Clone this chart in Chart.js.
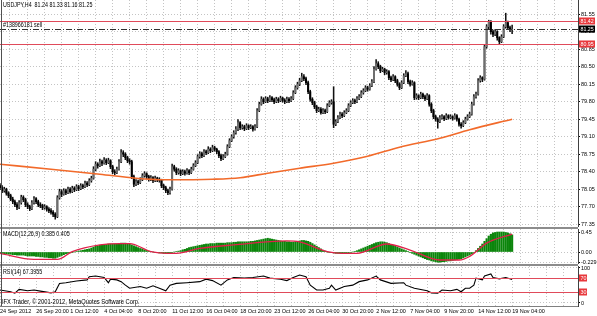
<!DOCTYPE html>
<html>
<head>
<meta charset="utf-8">
<script src="https://cdn.jsdelivr.net/npm/chart.js@4.4.1/dist/chart.umd.min.js"></script>
<style>
  body { margin: 0; background: #fff; width: 597px; height: 316px; overflow: hidden; position: relative;
         font-family: 'Liberation Sans', Arial, sans-serif; }
  canvas { position: absolute; left: 0; }
  .t { position: absolute; font-size: 6.5px; color: #000; white-space: nowrap; line-height: 1;
       transform: scaleX(0.82); transform-origin: left top; }
  .sep { position: absolute; left: 0; width: 578px; height: 2px; background: #8c8c8c; }
  .vl { position: absolute; left: 1px; top: 0; width: 1px; height: 306px; background: #505050; }
  .hl { position: absolute; left: 0; top: 306px; width: 578px; height: 1px; background: #808080; }
</style>
</head>
<body>
<canvas id="mainChart" width="597" height="227" style="top:0"></canvas>
<canvas id="macdChart" width="597" height="35" style="top:229px"></canvas>
<canvas id="rsiChart" width="597" height="50" style="top:266px"></canvas>
<div class="sep" style="top:227px"></div>
<div class="sep" style="top:264px"></div>
<div class="vl"></div>
<div class="hl"></div>
<div class="t" style="left:3px;top:2px">USDJPY,H4&nbsp; 81.24 81.33 81.16 81.25</div>
<div class="t" style="left:3px;top:22px">#138966181 sell</div>
<div class="t" style="left:3px;top:231px">MACD(12,26,9) 0.385 0.405</div>
<div class="t" style="left:3px;top:269px">RSI(14) 67.3955</div>
<div class="t" style="left:2px;top:298px;font-size:7px">IFX Trader, © 2001-2012, MetaQuotes Software Corp.</div>
<script>
// H4 bars, [open, high, low, close]
const ohlc = [
  [78.12,78.16,78.04,78.08],[78.08,78.12,77.98,78.02],[78.02,78.09,77.99,78.05],[78.05,78.07,77.93,77.97],
  [77.97,78.00,77.88,77.92],[77.92,77.95,77.82,77.85],[77.85,77.89,77.76,77.80],[77.80,77.83,77.70,77.74],
  [77.74,77.78,77.64,77.69],[77.69,77.82,77.66,77.78],[77.78,77.93,77.75,77.89],[77.89,77.92,77.80,77.84],
  [77.84,77.87,77.70,77.74],[77.74,77.78,77.66,77.70],[77.70,77.73,77.62,77.66],[77.66,77.82,77.64,77.78],
  [77.78,77.90,77.75,77.86],[77.86,77.88,77.76,77.80],[77.80,77.83,77.70,77.74],[77.74,77.78,77.68,77.72],
  [77.72,77.75,77.64,77.68],[77.68,77.74,77.65,77.70],[77.70,77.72,77.61,77.65],[77.65,77.68,77.58,77.62],
  [77.62,77.66,77.55,77.59],[77.59,77.62,77.50,77.55],[77.55,77.58,77.45,77.50],[77.50,77.92,77.48,77.88],
  [77.88,78.05,77.85,78.00],[78.00,78.04,77.90,77.95],[77.95,78.06,77.93,78.02],[78.02,78.05,77.94,77.98],
  [77.98,78.09,77.96,78.05],[78.05,78.08,77.97,78.00],[78.00,78.11,77.98,78.07],[78.07,78.10,78.00,78.04],
  [78.04,78.14,78.02,78.10],[78.10,78.13,78.02,78.06],[78.06,78.16,78.04,78.12],[78.12,78.15,78.06,78.10],
  [78.10,78.21,78.08,78.17],[78.17,78.20,78.10,78.14],[78.14,78.26,78.12,78.22],[78.22,78.31,78.19,78.27],
  [78.27,78.50,78.25,78.45],[78.45,78.60,78.42,78.55],[78.55,78.58,78.47,78.52],[78.52,78.65,78.50,78.60],
  [78.60,78.63,78.52,78.57],[78.57,78.68,78.55,78.63],[78.63,78.66,78.54,78.58],[78.58,78.67,78.56,78.62],
  [78.62,78.64,78.46,78.50],[78.50,78.53,78.36,78.40],[78.40,78.44,78.34,78.38],[78.38,78.49,78.36,78.45],
  [78.45,78.64,78.43,78.60],[78.60,78.84,78.58,78.78],[78.78,78.82,78.70,78.75],[78.75,78.78,78.64,78.68],
  [78.68,78.71,78.58,78.62],[78.62,78.66,78.55,78.60],[78.60,78.63,78.26,78.30],[78.30,78.33,78.10,78.15],
  [78.15,78.24,78.12,78.20],[78.20,78.23,78.14,78.18],[78.18,78.28,78.16,78.24],[78.24,78.36,78.22,78.32],
  [78.32,78.40,78.29,78.36],[78.36,78.38,78.26,78.30],[78.30,78.33,78.21,78.25],[78.25,78.32,78.22,78.28],
  [78.28,78.30,78.18,78.22],[78.22,78.31,78.20,78.27],[78.27,78.29,78.20,78.24],[78.24,78.28,78.19,78.23],
  [78.23,78.25,78.08,78.12],[78.12,78.15,78.04,78.08],[78.08,78.11,77.98,78.02],[78.02,78.05,77.94,77.98],
  [77.98,78.09,77.95,78.05],[78.05,78.55,78.03,78.50],[78.50,78.53,78.41,78.45],[78.45,78.48,78.34,78.38],
  [78.38,78.46,78.35,78.42],[78.42,78.44,78.32,78.36],[78.36,78.44,78.34,78.40],[78.40,78.43,78.33,78.37],
  [78.37,78.46,78.35,78.42],[78.42,78.44,78.34,78.38],[78.38,78.49,78.36,78.45],[78.45,78.56,78.43,78.52],
  [78.52,78.62,78.50,78.58],[78.58,78.74,78.56,78.70],[78.70,78.80,78.67,78.76],[78.76,78.79,78.68,78.72],
  [78.72,78.84,78.70,78.80],[78.80,78.83,78.74,78.78],[78.78,78.90,78.76,78.85],[78.85,78.88,78.78,78.82],
  [78.82,78.93,78.80,78.88],[78.88,78.91,78.81,78.85],[78.85,78.87,78.76,78.80],[78.80,78.82,78.68,78.72],
  [78.72,78.75,78.62,78.66],[78.66,78.74,78.64,78.70],[78.70,78.79,78.68,78.75],[78.75,78.94,78.73,78.90],
  [78.90,79.06,78.88,79.02],[79.02,79.14,79.00,79.10],[79.10,79.22,79.07,79.18],[79.18,79.30,79.15,79.25],
  [79.25,79.44,79.22,79.38],[79.38,79.40,79.24,79.28],[79.28,79.34,79.25,79.30],[79.30,79.33,79.22,79.26],
  [79.26,79.36,79.24,79.32],[79.32,79.34,79.24,79.28],[79.28,79.34,79.26,79.30],[79.30,79.32,79.21,79.25],
  [79.25,79.34,79.23,79.30],[79.30,79.66,79.28,79.62],[79.62,79.79,79.60,79.75],[79.75,79.90,79.73,79.85],
  [79.85,79.88,79.76,79.80],[79.80,79.90,79.78,79.86],[79.86,79.89,79.78,79.82],[79.82,79.92,79.80,79.88],
  [79.88,79.90,79.80,79.84],[79.84,79.87,79.76,79.80],[79.80,79.89,79.78,79.85],[79.85,79.88,79.78,79.82],
  [79.82,79.91,79.80,79.87],[79.87,79.89,79.79,79.83],[79.83,79.86,79.76,79.80],[79.80,79.89,79.78,79.85],
  [79.85,79.88,79.78,79.82],[79.82,79.90,79.80,79.86],[79.86,80.02,79.84,79.98],[79.98,80.12,79.96,80.08],
  [80.08,80.19,80.05,80.15],[80.15,80.27,80.12,80.22],[80.22,80.37,80.20,80.30],[80.30,80.34,80.22,80.26],
  [80.26,80.29,80.14,80.18],[80.18,80.21,79.96,80.00],[80.00,80.03,79.81,79.85],[79.85,79.88,79.74,79.78],
  [79.78,79.81,79.66,79.70],[79.70,79.73,79.58,79.62],[79.62,79.69,79.60,79.65],[79.65,79.68,79.55,79.58],
  [79.58,79.66,79.56,79.62],[79.62,79.65,79.56,79.60],[79.60,79.76,79.58,79.72],[79.72,79.82,79.70,79.78],
  [79.78,79.84,79.75,79.80],[79.80,80.10,79.28,79.35],[79.35,79.44,79.32,79.40],[79.40,79.52,79.38,79.48],
  [79.48,79.59,79.46,79.55],[79.55,79.58,79.48,79.52],[79.52,79.62,79.50,79.58],[79.58,79.66,79.56,79.62],
  [79.62,79.76,79.60,79.72],[79.72,79.82,79.70,79.78],[79.78,79.86,79.76,79.82],[79.82,79.85,79.76,79.80],
  [79.80,79.90,79.78,79.86],[79.86,79.94,79.84,79.90],[79.90,80.02,79.88,79.98],[79.98,80.06,79.95,80.02],
  [80.02,80.12,80.00,80.08],[80.08,80.11,80.01,80.05],[80.05,80.16,80.03,80.12],[80.12,80.24,80.10,80.20],
  [80.20,80.50,80.18,80.45],[80.45,80.64,80.43,80.56],[80.56,80.60,80.46,80.50],[80.50,80.53,80.38,80.42],
  [80.42,80.49,80.40,80.45],[80.45,80.47,80.34,80.38],[80.38,80.44,80.35,80.40],[80.40,80.42,80.24,80.28],
  [80.28,80.31,80.20,80.24],[80.24,80.34,80.22,80.30],[80.30,80.32,80.18,80.22],[80.22,80.25,80.11,80.15],
  [80.15,80.18,80.04,80.08],[80.08,80.22,80.06,80.18],[80.18,80.36,80.16,80.32],[80.32,80.42,80.30,80.36],
  [80.36,80.39,80.16,80.20],[80.20,80.23,80.11,80.15],[80.15,80.22,80.13,80.18],[80.18,80.20,79.84,79.88],
  [79.88,79.96,79.85,79.92],[79.92,79.94,79.84,79.88],[79.88,79.99,79.86,79.95],[79.95,79.97,79.86,79.90],
  [79.90,79.93,79.82,79.86],[79.86,79.96,79.84,79.92],[79.92,79.94,79.71,79.75],[79.75,79.78,79.58,79.62],
  [79.62,79.65,79.46,79.50],[79.50,79.53,79.41,79.45],[79.45,79.48,79.27,79.40],[79.40,79.52,79.38,79.48],
  [79.48,79.54,79.45,79.50],[79.50,79.52,79.42,79.46],[79.46,79.56,79.44,79.52],[79.52,79.54,79.45,79.48],
  [79.48,79.54,79.46,79.50],[79.50,79.52,79.43,79.47],[79.47,79.56,79.45,79.52],[79.52,79.54,79.41,79.45],
  [79.45,79.47,79.31,79.35],[79.35,79.38,79.27,79.32],[79.32,79.42,79.30,79.38],[79.38,79.49,79.36,79.45],
  [79.45,79.54,79.43,79.50],[79.50,79.59,79.48,79.55],[79.55,79.79,79.53,79.75],[79.75,79.94,79.73,79.90],
  [79.90,79.99,79.87,79.95],[79.95,80.26,79.93,80.22],[80.22,80.32,80.19,80.28],[80.28,80.30,80.20,80.25],
  [80.25,80.94,80.23,80.90],[80.90,81.34,80.87,81.30],[81.30,81.43,81.26,81.40],[81.40,81.42,81.15,81.20],
  [81.20,81.23,81.10,81.15],[81.15,81.24,81.12,81.20],[81.20,81.22,81.03,81.08],[81.08,81.10,80.95,81.00],
  [81.00,81.14,80.98,81.10],[81.10,81.34,81.08,81.30],[81.30,81.57,81.27,81.38],[81.38,81.41,81.24,81.28],
  [81.28,81.31,81.20,81.24],[81.24,81.33,81.16,81.25]
];

// moving average (orange line), read at a few bars
const maBars   = [0, 24, 47, 64, 78, 100, 113, 126, 141, 157, 173, 188, 207, 221, 241];
const maValues = [78.55, 78.45, 78.35, 78.27, 78.24, 78.25, 78.28, 78.37, 78.47, 78.57, 78.71, 78.89, 79.07, 79.24, 79.45];

// MACD histogram, one value per bar
const macdHist = [
  -0.03,-0.03,-0.04,-0.04,-0.05,-0.05,-0.06,-0.06,-0.07,-0.07,
  -0.07,-0.07,-0.08,-0.09,-0.09,-0.09,-0.09,-0.10,-0.10,-0.11,-0.11,-0.12,-0.12,-0.13,-0.13,-0.14,-0.14,
  -0.12,-0.10,-0.08,-0.06,-0.04,
  -0.03,-0.02,-0.01,0.00,0.01,0.02,0.03,0.04,0.05,0.06,0.07,0.09,0.11,0.13,0.14,0.15,0.16,0.17,0.17,0.18,
  0.18,0.18,0.18,0.18,0.19,0.20,0.20,0.20,0.19,
  0.18,0.16,0.14,0.12,0.10,0.08,0.07,0.05,0.04,0.02,
  0.01,0.00,-0.01,-0.01,-0.02,-0.02,-0.03,-0.03,-0.03,-0.02,-0.01,0.00,
  0.01,0.02,0.03,0.05,0.06,0.08,0.10,
  0.11,0.12,0.13,0.14,0.15,0.16,0.17,0.18,0.18,0.19,0.19,
  0.19,0.20,0.20,0.20,0.20,0.20,0.21,0.21,0.21,0.22,0.22,0.23,0.23,0.23,0.23,0.23,0.23,0.24,0.24,0.25,0.26,
  0.27,0.28,0.29,0.30,0.31,0.30,0.29,
  0.28,0.27,0.26,0.25,0.24,0.24,0.23,0.23,0.22,0.22,0.23,0.24,0.25,
  0.26,0.26,0.25,0.24,0.22,
  0.19,0.16,0.13,0.10,0.07,0.04,0.02,
  0.00,-0.01,-0.01,-0.02,-0.03,-0.03,-0.03,-0.03,-0.02,-0.02,-0.02,-0.01,0.00,0.01,
  0.03,0.05,0.07,0.09,0.11,0.13,0.15,0.17,
  0.19,0.21,0.22,0.23,0.23,0.22,0.21,
  0.19,0.17,0.15,0.13,0.11,0.09,0.07,0.05,0.03,0.01,
  -0.01,-0.03,-0.05,-0.07,-0.09,-0.11,-0.13,-0.15,-0.17,-0.18,-0.20,-0.21,-0.22,-0.23,
  -0.23,-0.22,-0.22,-0.21,-0.20,-0.20,-0.19,-0.18,-0.17,-0.16,-0.15,-0.13,-0.11,-0.09,-0.07,-0.04,
  -0.01,0.03,0.08,0.13,0.18,0.24,0.30,
  0.36,0.40,0.43,0.44,0.45,0.45,0.45,0.45,0.44,0.43,0.41,0.385
];
// MACD signal line
const sigBars   = [0, 16, 27, 34, 47, 57, 61, 71, 79, 83, 94, 110, 135, 141, 154, 161, 168, 182, 193, 207, 216, 221, 229, 241];
const sigValues = [-0.03, -0.165, -0.165, 0.01, 0.16, 0.19, 0.19, 0.01, -0.03, -0.03, 0.08, 0.16, 0.25, 0.23, 0.01, -0.03, -0.03, 0.18, 0.045, -0.18, -0.18, -0.10, 0.20, 0.405];

// RSI(14)
const rsiBars   = [0,5,7,9,13,16,19,24,26,28,31,36,41,42,45,49,51,52,55,57,59,61,66,69,72,75,78,80,83,88,
                   94,97,100,104,107,110,115,119,124,127,132,135,138,141,144,146,149,152,155,156,158,162,166,169,173,
                   177,179,184,190,191,195,201,203,206,208,212,215,217,219,221,223,224,227,228,231,232,235,238,241];
const rsiValues = [37,32,28,39,35,37,34,29,32,56,58,63,66,75,77,73,58,68,66,61,51,42,47,42,49,42,35,51,56,58,
                   61,68,64,51,66,73,71,73,77,71,68,64,73,80,75,51,37,37,42,51,37,47,51,61,66,
                   77,66,56,58,51,42,35,29,28,37,35,39,32,42,42,51,71,66,77,83,73,69,73,67.4];

// axes
const priceTicks = [77.35, 77.70, 78.05, 78.40, 78.75, 79.10, 79.45, 79.80, 80.15, 80.50, 80.85, 81.20, 81.55];
const macdTicks = [0.45, 0.00, -0.229];
const macdTickText = ['0.45', '0.00', '-0.229'];
const rsiTicks = [100, 70, 30, 0];
const labelBars = [0, 17, 33, 49, 65, 81, 97, 113, 129, 145, 161, 177, 193, 209, 225, 241];
const labelTexts = ['24 Sep 2012', '26 Sep 20:00', '1 Oct 12:00', '4 Oct 04:00', '8 Oct 20:00', '11 Oct 12:00',
                    '16 Oct 04:00', '18 Oct 20:00', '23 Oct 12:00', '26 Oct 04:00', '30 Oct 20:00', '2 Nov 12:00',
                    '7 Nov 04:00', '9 Nov 20:00', '14 Nov 12:00', '19 Nov 04:00'];
const gridBars = [0, 9, 17, 25, 33, 41, 49, 57, 65, 73, 81, 89, 97, 105, 113, 121, 129, 137, 145, 153, 161, 169,
                  177, 185, 193, 201, 209, 217, 225, 233, 241, 249, 257, 265];

// order lines and level lines
const orderLevels = [81.42, 80.95];
const orderTexts = ['81.42', '80.95'];
const lastPrice = 81.25;
const rsiLevels = [70, 30];

const X_MIN = 0, X_MAX = 272;
const GRID = '#c4c4c4';
const RED = '#e04a5a';
const RED_BOX = '#e8383c';
const FONT = "'Liberation Sans', Arial, sans-serif";

Chart.defaults.font.family = FONT;
Chart.defaults.font.size = 5.5;
Chart.defaults.color = '#000';
Chart.defaults.animation = false;
Chart.defaults.plugins.legend.display = false;
Chart.defaults.plugins.tooltip.enabled = false;

const overlay = {
    id: 'overlay',
    afterDatasetsDraw(chart, args, opts) {
        const ctx = chart.ctx, ys = chart.scales.y, a = chart.chartArea;
        (opts.lines || []).forEach(l => {
            const y = Math.round(ys.getPixelForValue(l.value)) + 0.5;
            ctx.save();
            ctx.strokeStyle = l.color;
            ctx.lineWidth = 1;
            ctx.setLineDash(l.dash || []);
            ctx.beginPath();
            ctx.moveTo(a.left, y);
            ctx.lineTo(a.right, y);
            ctx.stroke();
            ctx.restore();
        });
    },
    afterDraw(chart, args, opts) {
        const ctx = chart.ctx, ys = chart.scales.y, a = chart.chartArea;
        (opts.boxes || []).forEach(b => {
            const y = Math.round(ys.getPixelForValue(b.value));
            ctx.save();
            ctx.fillStyle = b.bg;
            ctx.fillRect(a.right + 1, y - 3.5, b.w || 16, 7);
            ctx.fillStyle = '#fff';
            ctx.font = '5.3px ' + FONT;
            ctx.textBaseline = 'middle';
            ctx.fillText(b.text, a.right + 2.5, y + 0.3);
            ctx.restore();
        });
    }
};

function xScale(showLabels) {
    return {
        type: 'linear', min: X_MIN, max: X_MAX, offset: false,
        afterBuildTicks: s => { s.ticks = gridBars.map(v => ({ value: v })); },
        grid: { color: GRID, drawTicks: showLabels, tickLength: 2, tickColor: 'rgba(0,0,0,0)' },
        border: { display: false, dash: [1, 2] },
        ticks: {
            display: showLabels, autoSkip: false, maxRotation: 0, align: 'start', padding: 0,
            callback: v => { const k = labelBars.indexOf(v); return k >= 0 ? labelTexts[k] : ''; }
        },
        afterFit: s => { s.height = showLabels ? 10 : 0; s.paddingLeft = 0; s.paddingRight = 0; }
    };
}

function yScale(min, max, ticks, fmt) {
    return {
        type: 'linear', position: 'right', min: min, max: max,
        afterBuildTicks: s => { s.ticks = ticks.map(v => ({ value: v })); },
        afterFit: s => { s.width = 19; s.paddingTop = 0; s.paddingBottom = 0; },
        grid: { color: GRID, tickColor: '#000', tickLength: 2 },
        border: { display: true, color: '#404040', dash: [1, 2] },
        ticks: { padding: 1, autoSkip: false, callback: fmt }
    };
}

new Chart(document.getElementById('mainChart'), {
    type: 'bar',
    data: {
        datasets: [
            {
                type: 'line',
                data: maBars.map((b, i) => ({ x: b, y: maValues[i] })),
                borderColor: '#f26a2a', borderWidth: 1.6, pointRadius: 0,
                cubicInterpolationMode: 'monotone'
            },
            {
                data: ohlc.map((d, i) => ({ x: i, y: [d[0], d[3]] })),
                backgroundColor: c => { const d = ohlc[c.dataIndex]; return d[3] >= d[0] ? '#6e6e6e' : '#000'; },
                barThickness: 1.4, grouped: false
            },
            {
                data: ohlc.map((d, i) => ({ x: i, y: [d[2], d[1]] })),
                backgroundColor: '#111',
                barThickness: 0.9, grouped: false
            }
        ]
    },
    options: {
        responsive: false,
        layout: { padding: 0 },
        scales: {
            x: xScale(false),
            y: yScale(77.294, 81.834, priceTicks, v => v.toFixed(2))
        },
        plugins: {
            overlay: {
                lines: [
                    { value: orderLevels[0], color: RED },
                    { value: orderLevels[1], color: RED },
                    { value: lastPrice, color: '#303030', dash: [6, 2, 1, 2] }
                ],
                boxes: [
                    { value: orderLevels[0], text: orderTexts[0], bg: RED_BOX },
                    { value: orderLevels[1], text: orderTexts[1], bg: RED_BOX },
                    { value: lastPrice, text: lastPrice.toFixed(2), bg: '#000' }
                ]
            }
        }
    },
    plugins: [overlay]
});

new Chart(document.getElementById('macdChart'), {
    type: 'bar',
    data: {
        datasets: [
            {
                type: 'line',
                data: sigBars.map((b, i) => ({ x: b, y: sigValues[i] })),
                borderColor: '#e0204a', borderWidth: 1.3, pointRadius: 0,
                cubicInterpolationMode: 'monotone'
            },
            {
                data: macdHist.map((v, i) => ({ x: i, y: v })),
                backgroundColor: '#0b850b',
                barThickness: 1.5, grouped: false
            }
        ]
    },
    options: {
        responsive: false,
        layout: { padding: 0 },
        scales: {
            x: xScale(false),
            y: yScale(-0.270, 0.518, macdTicks, v => { const k = macdTicks.indexOf(v); return k >= 0 ? macdTickText[k] : ''; })
        }
    }
});

new Chart(document.getElementById('rsiChart'), {
    type: 'line',
    data: {
        datasets: [
            {
                data: rsiBars.map((b, i) => ({ x: b, y: rsiValues[i] })),
                borderColor: '#000', borderWidth: 1.1, pointRadius: 0, tension: 0
            }
        ]
    },
    options: {
        responsive: false,
        layout: { padding: 0 },
        scales: {
            x: xScale(true),
            y: yScale(-8.6, 105.7, rsiTicks, v => String(v))
        },
        plugins: {
            overlay: {
                lines: rsiLevels.map(v => ({ value: v, color: RED })),
                boxes: rsiLevels.map(v => ({ value: v, text: String(v), bg: RED_BOX, w: 8 }))
            }
        }
    },
    plugins: [overlay]
});
</script>
</body>
</html>
